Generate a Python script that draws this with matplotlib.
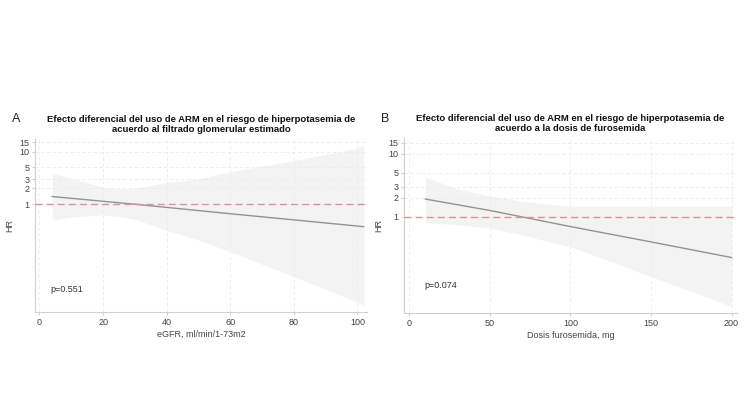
import numpy as np
import matplotlib.pyplot as plt

plt.rcParams['font.family'] = ['Liberation Sans', 'DejaVu Sans']

# Panel A: eGFR
egfr_x = [4, 10, 20, 25, 30, 40, 50, 60, 80, 100, 102]
egfr_upper = [3.88, 3.12, 2.10, 1.93, 2.01, 2.57, 3.03, 4.17, 6.74, 11.6, 13.4]
egfr_lower = [0.50, 0.57, 0.63, 0.58, 0.52, 0.32, 0.21, 0.126, 0.042, 0.014, 0.0117]
egfr_line_x = [4, 30, 60, 102]
egfr_line_hr = [1.40, 1.00, 0.66, 0.375]

# Panel B: furosemida
furo_x = [10, 20, 30, 50, 70, 90, 100, 150, 200]
furo_upper = [4.27, 3.43, 2.75, 2.15, 1.75, 1.55, 1.46, 1.46, 1.46]
furo_lower = [0.81, 0.78, 0.75, 0.66, 0.52, 0.38, 0.337, 0.113, 0.038]
furo_line_x = [10, 50, 100, 150, 200]
furo_line_hr = [1.91, 1.26, 0.70, 0.40, 0.226]

yticks = [1, 2, 3, 5, 10, 15]

titulo_a = ("Efecto diferencial del uso de ARM en el riesgo de hiperpotasemia de\n"
            "acuerdo al filtrado glomerular estimado")
titulo_b = ("Efecto diferencial del uso de ARM en el riesgo de hiperpotasemia de\n"
            "acuerdo a la dosis de furosemida")


def panel(ax, x, upper, lower, lx, ly, xlim, ylim, xticks, xlabel, titulo, ptext, ppos):
    ax.set_yscale('log')
    ax.fill_between(x, lower, upper, color='#f3f3f3', lw=0, zorder=1)
    ax.plot(lx, ly, color='#939393', lw=1.0, zorder=3)
    ax.axhline(1, color='#d8948e', lw=1.0, ls=(0, (5, 3)), zorder=4)
    ax.set_xlim(xlim)
    ax.set_ylim(ylim)
    ax.set_xticks(xticks)
    ax.set_yticks(yticks)
    ax.set_yticklabels([str(t) for t in yticks])
    ax.minorticks_off()
    ax.grid(True, color='#ebebeb', ls=(0, (4, 3)), lw=0.6, zorder=0)
    for s in ['top', 'right']:
        ax.spines[s].set_visible(False)
    for s in ['left', 'bottom']:
        ax.spines[s].set_color('#d0d0d0')
        ax.spines[s].set_linewidth(0.8)
    ax.tick_params(length=2, color='#d0d0d0', labelsize=6.5, labelcolor='#444444', pad=2)
    ax.set_xlabel(xlabel, fontsize=6.5, color='#444444', labelpad=2)
    ax.set_ylabel('HR', fontsize=6.5, color='#444444', labelpad=4)
    ax.set_title(titulo, fontsize=6.8, fontweight='bold', color='#111111', pad=5, linespacing=1.2)
    ax.text(ppos[0], ppos[1], ptext, transform=ax.transAxes, fontsize=6.5, color='#333333')


fig = plt.figure(figsize=(7.5, 3.99), dpi=100)
ax_a = fig.add_axes([0.0467, 0.218, 0.443, 0.434])
ax_b = fig.add_axes([0.539, 0.215, 0.443, 0.439])

panel(ax_a, egfr_x, egfr_upper, egfr_lower, egfr_line_x, egfr_line_hr,
      (-1.4, 103.1), (0.009, 17.4), [0, 20, 40, 60, 80, 100],
      'eGFR, ml/min/1-73m2', titulo_a, 'p=0.551', (0.045, 0.117))
panel(ax_b, furo_x, furo_upper, furo_lower, furo_line_x, furo_line_hr,
      (-3.1, 203.1), (0.0296, 17.7), [0, 50, 100, 150, 200],
      'Dosis furosemida, mg', titulo_b, 'p=0.074', (0.06, 0.143))

fig.text(12 / 750, 1 - 119 / 399, 'A', fontsize=9, color='#222222', va='center')
fig.text(381 / 750, 1 - 119 / 399, 'B', fontsize=9, color='#222222', va='center')

fig.savefig('out.png', dpi=100, facecolor='white')
